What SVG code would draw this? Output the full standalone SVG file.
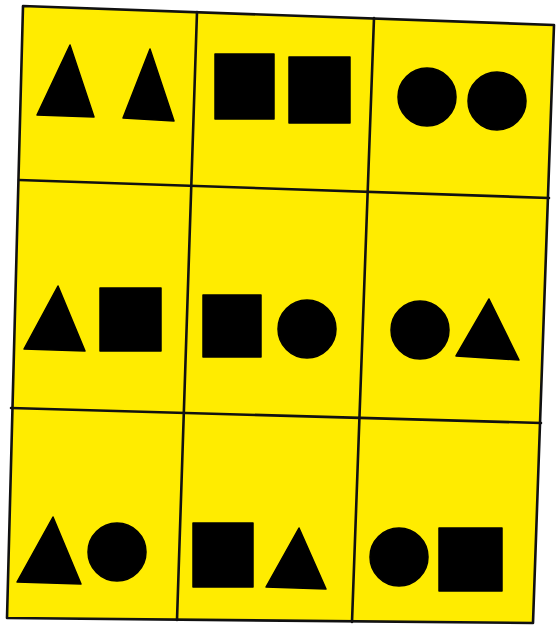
<svg xmlns="http://www.w3.org/2000/svg" width="556" height="628" viewBox="0 0 556 628">
<style>
.bg{fill:#ffffff}
.card{fill:#ffec00;stroke:none}
.grid{stroke:#111111;stroke-width:2.6;fill:none;stroke-linecap:round;stroke-linejoin:round}
.s{fill:#000000;stroke:#000000;stroke-width:1.5;stroke-linejoin:round}
</style>
<rect class="bg" x="0" y="0" width="556" height="628"/>
<polygon class="card" points="23,6 554,25 533,623 7,618"/>
<g id="grid">
<polygon class="grid" points="23,6 554,25 533,623 7,618"/>
<line class="grid" x1="19" y1="180" x2="549" y2="198"/>
<line class="grid" x1="11" y1="408" x2="541" y2="423"/>
<line class="grid" x1="197" y1="12" x2="177" y2="620"/>
<line class="grid" x1="374" y1="18" x2="352" y2="622"/>
</g>
<g id="cell-1-1">
<polygon class="s" points="70,45 94,117 37,115"/>
<polygon class="s" points="150,49 174,121 123,118"/>
</g>
<g id="cell-1-2">
<rect class="s" x="215" y="54" width="59" height="65"/>
<rect class="s" x="289" y="57" width="61" height="66"/>
</g>
<g id="cell-1-3">
<circle class="s" cx="427" cy="97" r="29"/>
<circle class="s" cx="497" cy="101" r="29"/>
</g>
<g id="cell-2-1">
<polygon class="s" points="58,286 85,351 24,349"/>
<rect class="s" x="100" y="288" width="61" height="63"/>
</g>
<g id="cell-2-2">
<rect class="s" x="203" y="295" width="58" height="62"/>
<circle class="s" cx="307" cy="329" r="29"/>
</g>
<g id="cell-2-3">
<circle class="s" cx="420" cy="330" r="29"/>
<polygon class="s" points="489,299 519,360 456,356"/>
</g>
<g id="cell-3-1">
<polygon class="s" points="53,517 81,584 17,582"/>
<circle class="s" cx="117" cy="552" r="29"/>
</g>
<g id="cell-3-2">
<rect class="s" x="193" y="523" width="60" height="64"/>
<polygon class="s" points="299,528 326,589 266,587"/>
</g>
<g id="cell-3-3">
<circle class="s" cx="399" cy="557" r="29"/>
<rect class="s" x="439" y="528" width="63" height="63"/>
</g>
</svg>
